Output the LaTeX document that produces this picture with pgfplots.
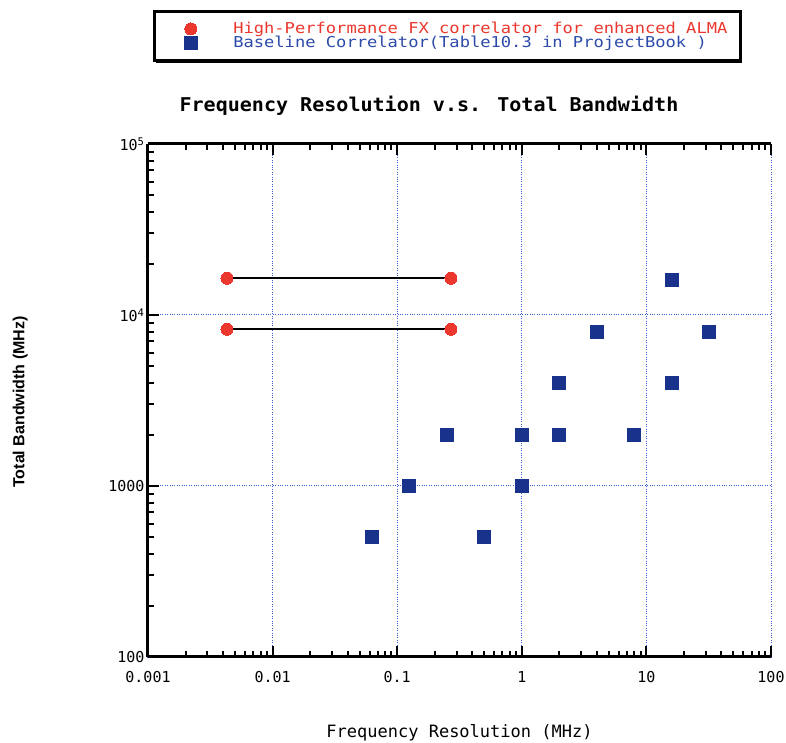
\documentclass[border=0pt]{standalone}
\usepackage{fontspec}
\setmainfont{DejaVu Sans}
\newfontfamily\monofont{DejaVu Sans Mono}
\newfontfamily\labfont{Liberation Sans}
\usepackage{pgfplots}
\pgfplotsset{compat=1.18}
\usetikzlibrary{shadows}
\definecolor{legred}{RGB}{235,55,45}
\definecolor{legblue}{RGB}{45,75,170}
\definecolor{markblue}{RGB}{25,50,140}
\definecolor{gridblue}{RGB}{60,95,205}
\begin{document}
\begin{tikzpicture}
\useasboundingbox (-148pt,-86pt) rectangle (638pt,657pt);
\begin{axis}[
  scale only axis, width=623pt, height=513pt,
  xmode=log, ymode=log,
  xmin=0.001, xmax=100, ymin=100, ymax=100000,
  xtick={0.001,0.01,0.1,1,10,100},
  xticklabels={0.001,0.01,0.1,1,10,100},
  ytick={100,1000,10000,100000},
  yticklabels={100,1000,10\textsuperscript{4},10\textsuperscript{5}},
  separate axis lines,
  axis x line*=box, axis y line*=left,
  tick align=inside,
  major tick length=11pt, minor tick length=6.5pt,
  tick style={black, line width=2pt},
  major tick style={black, line width=2pt},
  minor tick style={black, line width=2pt},
  axis line style={line width=3pt, black},
  grid=major,
  major grid style={dotted, color=gridblue, line width=1pt},
  ticklabel style={font=\monofont\fontsize{15}{17}\selectfont},
  xticklabel style={yshift=-11pt},
  title={\monofont\bfseries\fontsize{19}{22}\selectfont\scalebox{1.055}[1]{Frequency Resolution v.s. Total Bandwidth}},
  title style={at={(axis description cs:0.451,1.062)}, anchor=center},
  xlabel={\monofont\fontsize{17}{19}\selectfont Frequency Resolution (MHz)},
  xlabel style={at={(axis description cs:0.5,-0.148)}, anchor=center},
  ylabel={\labfont\bfseries\fontsize{16}{18}\selectfont Total Bandwidth (MHz)},
  ylabel style={at={(axis description cs:-0.205,0.497)}, anchor=center, rotate=0},
  legend style={at={(axis description cs:0.008,1.261)}, anchor=north west,
    draw=black, line width=2.6pt, fill=white,
    drop shadow={shadow xshift=1.5pt, shadow yshift=-3pt, fill=black, opacity=1},
    font=\monofont\fontsize{15}{15}\selectfont,
    inner xsep=30pt, inner ysep=9pt, row sep=-3pt},
  legend cell align=left,
]
\addplot[black, line width=2.2pt, forget plot] coordinates {(0.0043,16400) (0.27,16400)};
\addplot[black, line width=2.2pt, forget plot] coordinates {(0.0043,8250) (0.27,8250)};
\addplot[only marks, mark=*, mark size=6pt, mark options={draw=legred, fill=legred, line width=0pt}]
  coordinates {(0.0043,16400) (0.27,16400) (0.0043,8250) (0.27,8250)};
\addlegendentry{\kern34pt\textcolor{legred}{\scalebox{1.14}[1]{High-Performance FX correlator for enhanced ALMA}}\kern-19pt}
\addplot[only marks, mark=square*, mark size=6.5pt, mark options={draw=markblue, fill=markblue, line width=0pt}]
  coordinates {
  (0.0625,500) (0.125,1000) (0.25,2000) (0.5,500) (1,2000) (1,1000)
  (2,4000) (2,2000) (4,8000) (8,2000) (16,16000) (16,4000) (32,8000)
  };
\addlegendentry{\kern34pt\textcolor{legblue}{\scalebox{1.14}[1]{Baseline Correlator(Table10.3 in ProjectBook )}}}
\end{axis}
\end{tikzpicture}
\end{document}
